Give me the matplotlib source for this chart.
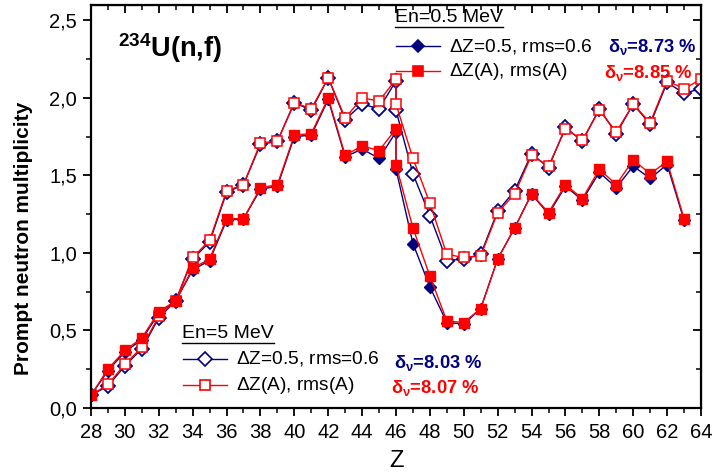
import numpy as np
import matplotlib.pyplot as plt
from matplotlib.lines import Line2D
from matplotlib.ticker import MultipleLocator, FuncFormatter

plt.rcParams['font.family'] = ['Liberation Sans', 'DejaVu Sans']
plt.rcParams['mathtext.fontset'] = 'custom'
plt.rcParams['mathtext.rm'] = 'Liberation Sans'
plt.rcParams['mathtext.it'] = 'Liberation Sans:italic'
plt.rcParams['mathtext.bf'] = 'Liberation Sans:bold'

# Z values, Z=46 is given twice in the data
Z_05 = [28, 29, 30, 31, 32, 33, 34, 35, 36, 37, 38, 39, 40, 41, 42, 43, 44, 45, 46, 46,
        47, 48, 49, 50, 51, 52, 53, 54, 55, 56, 57, 58, 59, 60, 61, 62, 63]
Z_5 = Z_05 + [64]

# En = 0.5 MeV
nu_05_dz = [0.08, 0.24, 0.36, 0.44, 0.61, 0.69, 0.89, 0.95, 1.21, 1.22, 1.41, 1.43, 1.75, 1.76,
            1.99, 1.62, 1.67, 1.61, 1.78, 1.54, 1.06, 0.78, 0.55, 0.54, 0.64, 0.96, 1.16, 1.38,
            1.25, 1.43, 1.34, 1.52, 1.42, 1.56, 1.48, 1.57, 1.21]
nu_05_dza = [0.08, 0.25, 0.37, 0.45, 0.62, 0.69, 0.90, 0.96, 1.22, 1.22, 1.42, 1.44, 1.76, 1.77,
             2.00, 1.63, 1.69, 1.66, 1.80, 1.57, 1.16, 0.85, 0.56, 0.55, 0.64, 0.96, 1.16, 1.38,
             1.26, 1.44, 1.35, 1.54, 1.44, 1.60, 1.51, 1.59, 1.22]
# En = 5 MeV
nu_5_dz = [0.08, 0.14, 0.27, 0.38, 0.58, 0.69, 0.96, 1.07, 1.39, 1.44, 1.70, 1.72, 1.97, 1.92,
           2.13, 1.86, 1.96, 1.93, 2.11, 1.92, 1.51, 1.24, 0.95, 0.96, 0.99, 1.27, 1.40, 1.64,
           1.55, 1.81, 1.72, 1.93, 1.77, 1.96, 1.83, 2.10, 2.03, 2.06]
nu_5_dza = [0.08, 0.15, 0.28, 0.39, 0.59, 0.69, 0.97, 1.08, 1.40, 1.44, 1.71, 1.72, 1.97, 1.93,
            2.13, 1.87, 2.00, 1.98, 2.12, 1.96, 1.61, 1.32, 0.99, 0.97, 0.98, 1.26, 1.38, 1.63,
            1.56, 1.80, 1.73, 1.92, 1.78, 1.96, 1.84, 2.11, 2.06, 2.12]

NAVY = '#000080'
RED = '#ff0000'
W, H = 713, 474

fig = plt.figure(figsize=(W / 100, H / 100), dpi=100)
ax = fig.add_axes([91 / W, 1 - 407.7 / H, 610 / W, 402.7 / H])

ax.plot(Z_5, nu_5_dz, color=NAVY, lw=1, marker='D', ms=7, mfc='white', mec=NAVY, mew=1.3)
ax.plot(Z_05, nu_05_dz, color=NAVY, lw=1, marker='D', ms=6, mfc=NAVY, mec=NAVY)
ax.plot(Z_5, nu_5_dza, color=RED, lw=1, marker='s', ms=6.5, mfc='white', mec=RED, mew=1.1)
ax.plot(Z_05, nu_05_dza, color=RED, lw=1, marker='s', ms=6.5, mfc=RED, mec=RED)

ax.set_xlim(28, 64)
ax.set_ylim(0, 2.6)
ax.xaxis.set_major_locator(MultipleLocator(2))
ax.xaxis.set_minor_locator(MultipleLocator(1))
ax.yaxis.set_major_locator(MultipleLocator(0.5))
ax.yaxis.set_minor_locator(MultipleLocator(0.25))
ax.yaxis.set_major_formatter(FuncFormatter(lambda v, p: f'{v:.1f}'.replace('.', ',')))
ax.tick_params(which='major', direction='out', length=6, width=1.3, labelsize=14.5, pad=4)
ax.tick_params(axis='x', which='major', pad=5)
ax.tick_params(which='minor', direction='out', length=3.5, width=1.1)
for s in ax.spines.values():
    s.set_linewidth(1.6)

# mirrored ticks pointing inwards
top = ax.secondary_xaxis('top')
top.xaxis.set_major_locator(MultipleLocator(2))
top.xaxis.set_minor_locator(MultipleLocator(1))
top.tick_params(which='major', direction='in', length=6, width=1.3, labeltop=False)
top.tick_params(which='minor', direction='in', length=3.5, width=1.1)
right = ax.secondary_yaxis('right')
right.yaxis.set_major_locator(MultipleLocator(0.5))
right.yaxis.set_minor_locator(MultipleLocator(0.25))
right.tick_params(which='major', direction='in', length=6, width=1.3, labelright=False)
right.tick_params(which='minor', direction='in', length=3.5, width=1.1)

ax.set_xlabel('Z', fontsize=17, labelpad=6)
ax.set_ylabel('Prompt neutron multiplicity', fontsize=15, fontweight='bold')
ax.yaxis.set_label_coords(-0.095, 0.42)

ax.text(0.044, 0.893, r'$\mathbf{^{234}}$U(n,f)', transform=ax.transAxes,
        fontsize=19.5, fontweight='bold', ha='left', va='center')


def fx(px):
    return px / W


def fy(py):
    return 1 - py / H


def legend_block(x0, y_title, y1, y2, title, filled):
    t = fig.text(fx(x0), fy(y_title), title, fontsize=14, ha='left', va='center')
    fig.canvas.draw()
    bb = t.get_window_extent()
    fig.add_artist(Line2D([bb.x0 / W, bb.x1 / W], [fy(y_title + 9)] * 2,
                          color='black', lw=1))
    for y, col, mk, ms, lab in [(y1, NAVY, 'D', 7 if not filled else 6, r'$\Delta$Z=0.5, rms=0.6'),
                                (y2, RED, 's', 6.5, r'$\Delta$Z(A), rms(A)')]:
        fig.add_artist(Line2D([fx(x0 + 1), fx(x0 + 45)], [fy(y)] * 2, color=col, lw=1))
        fig.add_artist(Line2D([fx(x0 + 23)], [fy(y)], marker=mk, ms=ms, color=col,
                              mfc=col if filled else 'white', mec=col, mew=1.2))
        fig.text(fx(x0 + 54), fy(y), lab, fontsize=13.8, ha='left', va='center')


legend_block(395, 18, 46, 71, 'En=0.5 MeV', True)
legend_block(182, 334, 359, 385, 'En=5 MeV', False)

fig.text(fx(608), fy(47), r'$\mathbf{\delta_{\nu}}$=8.73 %', color=NAVY, fontsize=13.2,
         fontweight='bold', ha='left', va='center')
fig.text(fx(604), fy(73), r'$\mathbf{\delta_{\nu}}$=8.85 %', color=RED, fontsize=13.2,
         fontweight='bold', ha='left', va='center')
fig.text(fx(394), fy(363), r'$\mathbf{\delta_{\nu}}$=8.03 %', color=NAVY, fontsize=13.2,
         fontweight='bold', ha='left', va='center')
fig.text(fx(391), fy(388), r'$\mathbf{\delta_{\nu}}$=8.07 %', color=RED, fontsize=13.2,
         fontweight='bold', ha='left', va='center')

fig.savefig('out.png', dpi=100)
